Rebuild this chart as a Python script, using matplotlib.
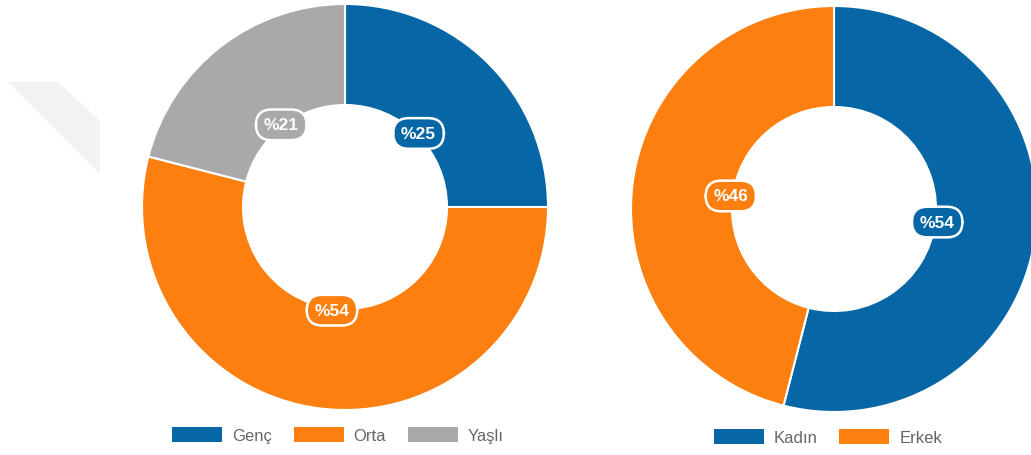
import matplotlib.pyplot as plt
from matplotlib.patches import Patch, Polygon
import numpy as np

plt.rcParams['font.family'] = ['Liberation Sans', 'DejaVu Sans']

# data
age_labels = ['Genç', 'Orta', 'Yaşlı']
age_values = [25, 54, 21]
gender_labels = ['Kadın', 'Erkek']
gender_values = [54, 46]

blue = '#0767a6'
orange = '#fd7f10'
gray = '#a9a9a9'
age_colors = [blue, orange, gray]
gender_colors = [blue, orange]

W, H = 1031, 456
fig = plt.figure(figsize=(W / 100, H / 100), dpi=100)
ax = fig.add_axes([0, 0, 1, 1])

# faint watermark in the back
ax.add_patch(Polygon([(8, H - 83), (58, H - 83), (100, H - 122), (100, H - 175)],
                     closed=True, facecolor='#f2f2f2', edgecolor='none', zorder=0))

R_OUT, R_IN = 203, 102


def donut(values, colors, center):
    wedges, _ = ax.pie(values, colors=colors, center=center, radius=R_OUT,
                       startangle=90, counterclock=False,
                       wedgeprops=dict(width=R_OUT - R_IN, edgecolor='white', linewidth=1.5))
    for w, v, c in zip(wedges, values, colors):
        th = np.deg2rad((w.theta1 + w.theta2) / 2)
        x = center[0] + (R_IN + 2) * np.cos(th)
        y = center[1] + (R_IN + 2) * np.sin(th)
        ax.text(x, y, '%{}'.format(v), ha='center', va='center', color='white',
                fontsize=12.5, fontweight='bold', zorder=5,
                bbox=dict(boxstyle='round,pad=0.45,rounding_size=0.9', facecolor=c,
                          edgecolor='white', linewidth=1.8))
    return wedges


w1 = donut(age_values, age_colors, (345, H - 208))
w2 = donut(gender_values, gender_colors, (834, H - 210))

ax.set_xlim(0, W)
ax.set_ylim(0, H)
ax.set_aspect('equal')
ax.axis('off')

leg_kw = dict(frameon=False, fontsize=12, handlelength=3.0, handleheight=1.0,
              handletextpad=0.6, columnspacing=1.3, labelcolor='#666666')
h1 = [Patch(facecolor=c, edgecolor='none') for c in age_colors]
l1 = ax.legend(h1, age_labels, ncol=3, loc='center',
               bbox_to_anchor=(338 / W, 20 / H), **leg_kw)
ax.add_artist(l1)
h2 = [Patch(facecolor=c, edgecolor='none') for c in gender_colors]
ax.legend(h2, gender_labels, ncol=2, loc='center',
          bbox_to_anchor=(828 / W, 18 / H), **leg_kw)

fig.savefig('out.png', dpi=100)
